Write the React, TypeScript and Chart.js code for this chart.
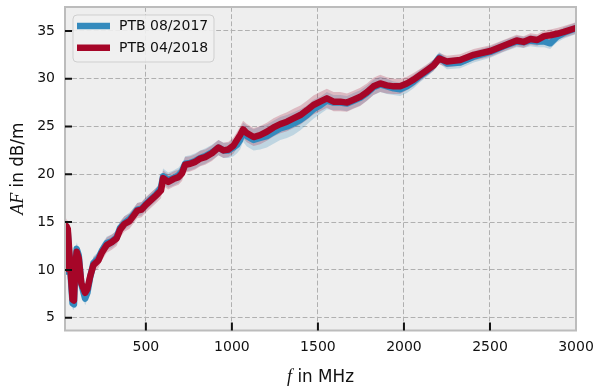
import React, { useEffect, useRef } from "react";
import { Chart, registerables } from "chart.js";

Chart.register(...registerables);

// Frequency grid (MHz)
const freqMHz = [
  30, 38, 46, 60, 74, 82, 90, 98, 110, 125,
  147, 160, 176, 195, 224, 244, 273, 302, 330, 350,
  375, 405, 430, 450, 475, 500, 530, 560, 588, 600,
  630, 660, 690, 710, 728, 758, 787, 816, 845, 884,
  922, 951, 980, 1009, 1030, 1048, 1065, 1087, 1126, 1164,
  1203, 1242, 1281, 1320, 1358, 1398, 1436, 1474, 1513, 1552,
  1591, 1630, 1669, 1707, 1746, 1785, 1823, 1862, 1901, 1940,
  1978, 2017, 2056, 2095, 2134, 2172, 2205, 2250, 2327, 2405,
  2502, 2579, 2655, 2695, 2735, 2775, 2815, 2850, 2890, 2930,
  2990, 3000,
];

// PTB 08/2017 antenna factor (dB/m)
const af2017 = [
  9.5, 14.5, 14.0, 10.2, 6.5, 6.4, 10.8, 12.2, 11.5, 8.5,
  7.0, 7.6, 9.2, 10.7, 11.2, 12.0, 12.8, 13.0, 13.4, 14.4,
  14.9, 15.3, 15.8, 16.3, 16.4, 16.9, 17.4, 17.9, 18.6, 19.8,
  19.4, 19.6, 19.9, 20.3, 21.1, 21.2, 21.4, 21.7, 21.9, 22.3,
  22.8, 22.5, 22.5, 22.8, 23.1, 23.6, 24.4, 24.0, 23.6, 23.8,
  24.0, 24.4, 24.8, 25.0, 25.3, 25.7, 26.2, 26.8, 27.2, 27.7,
  27.5, 27.5, 27.4, 27.7, 28.0, 28.5, 29.1, 29.4, 29.2, 29.0,
  28.9, 29.2, 29.7, 30.3, 30.8, 31.4, 32.2, 31.6, 31.7, 32.3,
  32.8, 33.4, 33.9, 33.8, 34.0, 33.9, 33.9, 33.7, 34.4, 34.8,
  35.2, 35.25,
];

// PTB 04/2018 antenna factor (dB/m)
const af2018 = [
  9.8, 14.6, 14.3, 10.5, 6.9, 6.8, 10.5, 11.9, 11.2, 8.6,
  7.6, 8.0, 9.3, 10.5, 11.0, 11.8, 12.6, 12.9, 13.3, 14.2,
  14.8, 15.1, 15.7, 16.2, 16.3, 16.8, 17.3, 17.8, 18.3, 19.6,
  19.2, 19.5, 19.7, 20.1, 21.0, 21.1, 21.3, 21.65, 21.8, 22.2,
  22.8, 22.5, 22.6, 23.0, 23.6, 24.1, 24.7, 24.3, 23.9, 24.1,
  24.45, 24.9, 25.25, 25.5, 25.85, 26.2, 26.7, 27.25, 27.6, 27.95,
  27.6, 27.6, 27.5, 27.8, 28.1, 28.6, 29.2, 29.5, 29.3, 29.2,
  29.2, 29.5, 29.9, 30.4, 30.9, 31.4, 32.1, 31.8, 31.95, 32.5,
  32.9, 33.45, 34.0, 33.85, 34.15, 34.05, 34.45, 34.55, 34.7, 34.9,
  35.25, 35.3,
];

// Uncertainty half-widths (dB)
const unc2017 = [
  0.6, 0.7, 0.7, 0.7, 0.6, 0.6, 0.6, 0.7, 0.7, 0.7,
  0.7, 0.7, 0.7, 0.7, 0.7, 0.7, 0.7, 0.7, 0.7, 0.7,
  0.7, 0.7, 0.7, 0.7, 0.7, 0.7, 0.7, 0.7, 0.7, 0.8,
  0.8, 0.8, 0.8, 0.8, 0.8, 0.8, 0.8, 0.8, 0.8, 0.8,
  0.8, 0.8, 0.8, 0.9, 0.9, 1.0, 1.0, 1.1, 1.1, 1.2,
  1.2, 1.2, 1.2, 1.2, 1.2, 1.1, 1.0, 1.0, 0.9, 0.9,
  0.8, 0.8, 0.8, 0.8, 0.8, 0.8, 0.8, 0.8, 0.8, 0.7,
  0.7, 0.7, 0.7, 0.65, 0.6, 0.6, 0.6, 0.6, 0.6, 0.6,
  0.6, 0.6, 0.6, 0.6, 0.6, 0.6, 0.6, 0.6, 0.6, 0.6,
  0.6, 0.6,
];

const unc2018 = [
  0.7, 0.8, 0.8, 0.8, 0.7, 0.7, 0.7, 0.8, 0.8, 0.8,
  0.8, 0.8, 0.8, 0.8, 0.8, 0.8, 0.8, 0.8, 0.8, 0.8,
  0.8, 0.8, 0.8, 0.8, 0.8, 0.8, 0.8, 0.8, 0.8, 0.8,
  0.8, 0.8, 0.8, 0.8, 0.8, 0.8, 0.8, 0.8, 0.8, 0.8,
  0.8, 0.8, 0.8, 0.85, 0.85, 0.9, 0.9, 0.95, 0.95, 0.95,
  0.95, 0.95, 0.95, 1.0, 1.0, 1.0, 1.0, 1.0, 1.0, 1.0,
  1.0, 1.0, 0.95, 0.95, 0.95, 0.9, 0.9, 0.9, 0.85, 0.8,
  0.8, 0.7, 0.7, 0.65, 0.6, 0.6, 0.6, 0.6, 0.6, 0.6,
  0.6, 0.6, 0.6, 0.6, 0.6, 0.6, 0.6, 0.6, 0.6, 0.6,
  0.6, 0.6,
];

const xTicks = [500, 1000, 1500, 2000, 2500, 3000];
const yTicks = [5, 10, 15, 20, 25, 30, 35];
const seriesNames = ["PTB 08/2017", "PTB 04/2018"];
const seriesColors = ["#348ABD", "#A60628"];
const bandColors = ["rgba(52,138,189,0.25)", "rgba(166,6,40,0.22)"];

const pts = (ys: number[]) => freqMHz.map((f, i) => ({ x: f, y: ys[i] }));
const band = (ys: number[], u: number[], s: number) =>
  freqMHz.map((f, i) => ({ x: f, y: ys[i] + s * u[i] }));

const decorPlugin = {
  id: "decor",
  beforeDraw(chart: any) {
    const { ctx, chartArea: a } = chart;
    ctx.save();
    ctx.fillStyle = "#ffffff";
    ctx.fillRect(0, 0, chart.width, chart.height);
    ctx.fillStyle = "#eeeeee";
    ctx.fillRect(a.left, a.top, a.right - a.left, a.bottom - a.top);
    ctx.restore();
  },
  afterDatasetsDraw(chart: any) {
    const { ctx, chartArea: a } = chart;
    const xs = chart.scales.x;
    const ys = chart.scales.y;
    ctx.save();
    // frame
    ctx.strokeStyle = "#bcbcbc";
    ctx.lineWidth = 2;
    ctx.strokeRect(a.left, a.top, a.right - a.left, a.bottom - a.top);
    // inward ticks
    ctx.strokeStyle = "#111111";
    ctx.lineWidth = 2;
    ctx.beginPath();
    xTicks.forEach((v) => {
      const px = xs.getPixelForValue(v);
      if (px > a.left + 2 && px < a.right - 2) {
        ctx.moveTo(px, a.bottom);
        ctx.lineTo(px, a.bottom - 8);
      }
    });
    yTicks.forEach((v) => {
      const py = ys.getPixelForValue(v);
      if (py > a.top + 2 && py < a.bottom - 2) {
        ctx.moveTo(a.left, py);
        ctx.lineTo(a.left + 7, py);
      }
    });
    ctx.stroke();

    // legend
    const lx = a.left + 8;
    const ly = a.top + 8;
    const lw = 141;
    const lh = 47;
    ctx.beginPath();
    (ctx as any).roundRect(lx, ly, lw, lh, 4);
    ctx.fillStyle = "rgba(239,239,239,0.9)";
    ctx.fill();
    ctx.strokeStyle = "#cfcfcf";
    ctx.lineWidth = 1;
    ctx.stroke();
    ctx.font = "14px 'DejaVu Sans'";
    ctx.textBaseline = "middle";
    ctx.textAlign = "left";
    seriesNames.forEach((name, i) => {
      const ry = ly + 11 + i * 21.7;
      ctx.strokeStyle = seriesColors[i];
      ctx.lineWidth = 6.5;
      ctx.lineCap = "butt";
      ctx.beginPath();
      ctx.moveTo(lx + 4, ry);
      ctx.lineTo(lx + 37, ry);
      ctx.stroke();
      ctx.fillStyle = "#111111";
      ctx.fillText(name, lx + 46, ry + 0.5);
    });
    ctx.restore();
  },
  afterDraw(chart: any) {
    const { ctx, chartArea: a } = chart;
    const italic = "italic 18px 'Liberation Serif'";
    const normal = "16.8px 'DejaVu Sans'";
    ctx.save();
    ctx.fillStyle = "#111111";
    ctx.textBaseline = "alphabetic";
    ctx.textAlign = "left";
    // x title
    ctx.font = italic;
    const wf = ctx.measureText("f").width;
    ctx.font = normal;
    const wr = ctx.measureText(" in MHz").width;
    const sx = (a.left + a.right) / 2 - (wf + wr) / 2;
    ctx.font = italic;
    ctx.fillText("f", sx, 382);
    ctx.font = normal;
    ctx.fillText(" in MHz", sx + wf, 382);
    // y title
    ctx.font = italic;
    const wa = ctx.measureText("AF").width;
    ctx.font = normal;
    const wb = ctx.measureText(" in dB/m").width;
    ctx.translate(22.7, (a.top + a.bottom) / 2);
    ctx.rotate(-Math.PI / 2);
    const st = -(wa + wb) / 2;
    ctx.font = italic;
    ctx.fillText("AF", st, 0);
    ctx.font = normal;
    ctx.fillText(" in dB/m", st + wa, 0);
    ctx.restore();
  },
};

export default function App() {
  const ref = useRef<HTMLCanvasElement>(null);
  useEffect(() => {
    document.body.style.margin = "0";
    const canvas = ref.current!;
    const lineDs = (i: number, ys: number[]) => ({
      label: seriesNames[i],
      data: pts(ys),
      borderColor: seriesColors[i],
      backgroundColor: seriesColors[i],
      borderWidth: 6.5,
      pointRadius: 0,
      fill: false,
      tension: 0,
      borderJoinStyle: "round" as const,
      borderCapStyle: "butt" as const,
    });
    const bandDs = (data: any[], color: string, fill: any) => ({
      label: "",
      data,
      borderWidth: 0,
      borderColor: "rgba(0,0,0,0)",
      backgroundColor: color,
      pointRadius: 0,
      fill,
      tension: 0,
    });
    const chart = new Chart(canvas, {
      type: "line",
      data: {
        datasets: [
          lineDs(1, af2018),
          lineDs(0, af2017),
          bandDs(band(af2018, unc2018, 1), bandColors[1], "+1"),
          bandDs(band(af2018, unc2018, -1), bandColors[1], false),
          bandDs(band(af2017, unc2017, 1), bandColors[0], "+1"),
          bandDs(band(af2017, unc2017, -1), bandColors[0], false),
        ] as any,
      },
      options: {
        responsive: false,
        animation: false,
        events: [],
        layout: { padding: { top: 7, right: 24, left: 0, bottom: 0 } },
        plugins: {
          legend: { display: false },
          tooltip: { enabled: false },
          filler: { drawTime: "beforeDatasetsDraw", propagate: false } as any,
        },
        scales: {
          x: {
            type: "linear",
            min: 30,
            max: 3000,
            afterBuildTicks: (s: any) => {
              s.ticks = xTicks.map((v) => ({ value: v }));
            },
            afterFit: (s: any) => {
              s.height = 59.5;
              s.paddingLeft = 0;
              s.paddingRight = 0;
            },
            grid: { color: "#b0b0b0", lineWidth: 1, drawTicks: false },
            border: { display: false, dash: [4.8, 2.4] },
            ticks: {
              padding: 8.5,
              color: "#111111",
              font: { family: "'DejaVu Sans'", size: 14 },
              maxRotation: 0,
              autoSkip: false,
              callback: (v: any) => String(v),
            },
          },
          y: {
            type: "linear",
            min: 3.66,
            max: 37.5,
            afterBuildTicks: (s: any) => {
              s.ticks = yTicks.map((v) => ({ value: v }));
            },
            afterFit: (s: any) => {
              s.width = 65;
              s.paddingTop = 0;
              s.paddingBottom = 0;
            },
            grid: { color: "#b0b0b0", lineWidth: 1, drawTicks: false },
            border: { display: false, dash: [4.8, 2.4] },
            ticks: {
              padding: 10,
              color: "#111111",
              font: { family: "'DejaVu Sans'", size: 14 },
              autoSkip: false,
              callback: (v: any) => String(v),
            },
          },
        },
      } as any,
      plugins: [decorPlugin],
    });
    return () => chart.destroy();
  }, []);
  return (
    <div style={{ width: 600, height: 390 }}>
      <canvas ref={ref} width={600} height={390} style={{ display: "block" }} />
    </div>
  );
}
